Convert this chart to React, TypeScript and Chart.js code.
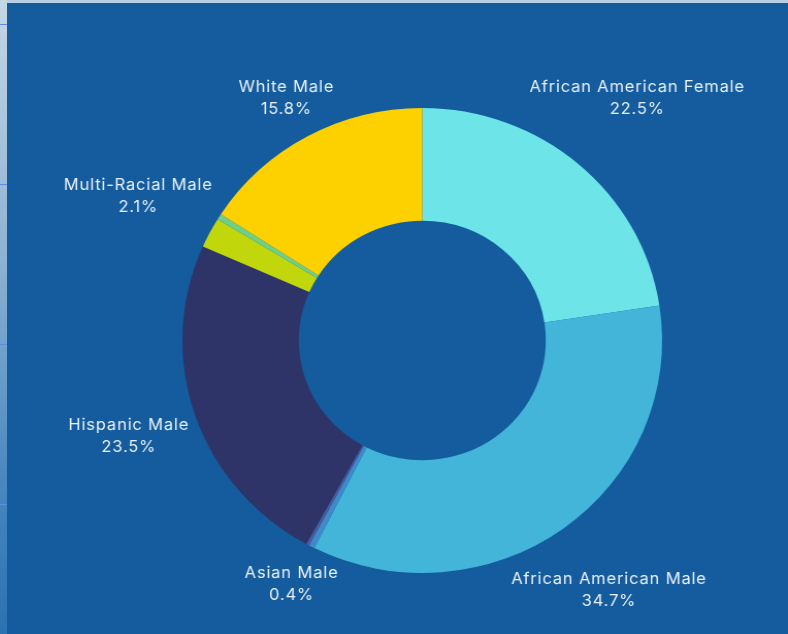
import React, { useEffect, useRef } from "react";
import { Chart, registerables } from "chart.js";

Chart.register(...registerables);

const categories = [
  "African American Female",
  "African American Male",
  "Asian Male",
  "",
  "Hispanic Male",
  "Multi-Racial Male",
  "",
  "White Male",
];
const values = [22.5, 34.7, 0.4, 0.2, 23.5, 2.1, 0.4, 15.8];
const colors = [
  "#6ce4e8",
  "#43b5d8",
  "#3f8bca",
  "#4b5a9c",
  "#2f3468",
  "#c2d60c",
  "#6fcf85",
  "#fdd100",
];

const STRETCH = 1.032;

const labelPlugin = {
  id: "outsideLabels",
  afterDatasetsDraw(chart: any) {
    const ctx = chart.ctx;
    const meta = chart.getDatasetMeta(0);
    ctx.save();
    ctx.font = "400 16px Inter, 'DejaVu Sans', sans-serif";
    try {
      (ctx as any).letterSpacing = "0.8px";
    } catch (e) {}
    ctx.fillStyle = "#eaf1f8";
    ctx.textAlign = "center";
    ctx.textBaseline = "middle";
    const lh = 22;
    meta.data.forEach((arc: any, i: number) => {
      const name = categories[i];
      if (!name) return;
      const p = arc.getProps(["x", "y", "startAngle", "endAngle", "outerRadius"], true);
      const mid = (p.startAngle + p.endAngle) / 2;
      const l1 = name;
      const l2 = values[i].toFixed(1) + "%";
      const w = Math.max(ctx.measureText(l1).width, ctx.measureText(l2).width);
      const c = Math.cos(mid);
      const s = Math.sin(mid);
      const r = p.outerRadius + 7 + Math.abs(c) * (w / 2) + Math.abs(s) * 16;
      const cx = p.x + c * r;
      const cy = p.y + s * r;
      ctx.fillText(l1, cx, cy - lh / 2);
      ctx.fillText(l2, cx, cy + lh / 2);
    });
    ctx.restore();
  },
};

export default function App() {
  const ref = useRef<HTMLCanvasElement | null>(null);
  useEffect(() => {
    if (!ref.current) return;
    const chart = new Chart(ref.current, {
      type: "doughnut",
      data: {
        labels: categories,
        datasets: [
          {
            data: values,
            backgroundColor: colors,
            borderWidth: 0,
          },
        ],
      },
      options: {
        animation: false,
        responsive: false,
        cutout: "51.5%",
        layout: { padding: { left: 170, right: 122, top: 105, bottom: 61 } },
        plugins: {
          legend: { display: false },
          tooltip: { enabled: false },
        },
      },
      plugins: [labelPlugin],
    });
    return () => chart.destroy();
  }, []);

  const innerW = Math.round(781 / STRETCH);

  return (
    <div
      style={{
        position: "fixed",
        left: 0,
        top: 0,
        width: 788,
        height: 634,
        background: "#b9cfe2",
        overflow: "hidden",
      }}
    >
      <div
        style={{
          position: "absolute",
          left: 0,
          top: 0,
          width: 7,
          height: 634,
          background: "linear-gradient(180deg, #c4d7e6 0%, #8fb3d3 40%, #4a88c0 75%, #2b72b2 100%)",
        }}
      />
      {[24, 184, 344, 504].map((y) => (
        <div
          key={y}
          style={{ position: "absolute", left: 0, top: y, width: 7, height: 1, background: "#5b8fe6" }}
        />
      ))}
      <div
        style={{
          position: "absolute",
          left: 7,
          top: 3,
          width: 781,
          height: 631,
          background: "#145c9e",
        }}
      >
        <canvas
          ref={ref}
          width={innerW}
          height={631}
          style={{ display: "block", width: 781, height: 631 }}
        />
      </div>
    </div>
  );
}
